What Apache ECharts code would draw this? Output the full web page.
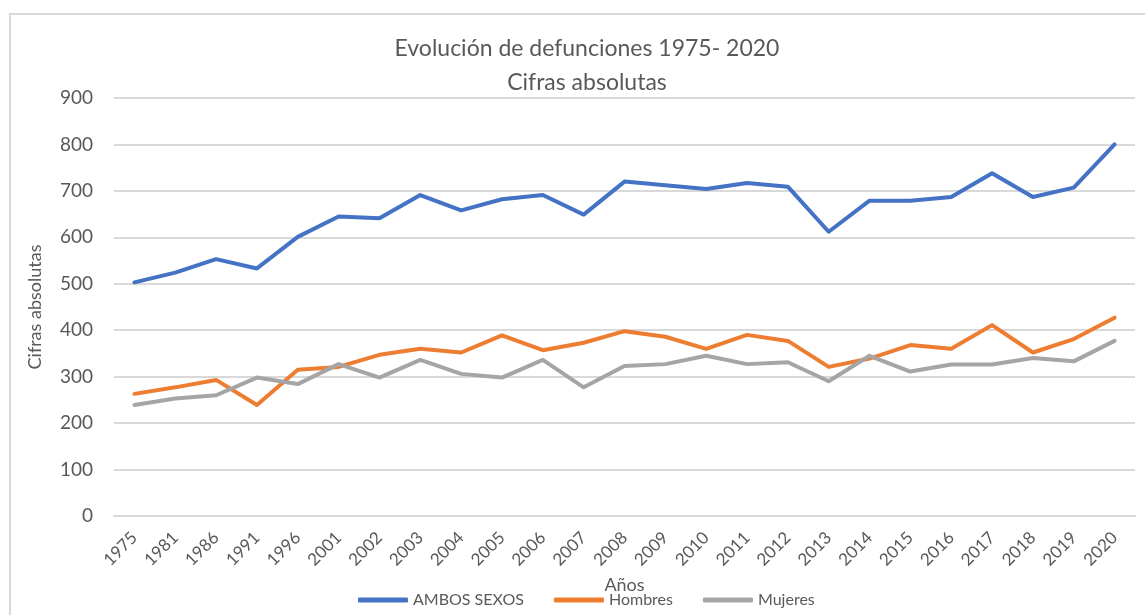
<!DOCTYPE html>
<html>
<head>
<meta charset="utf-8">
<script src="https://cdn.jsdelivr.net/npm/echarts@6/dist/echarts.min.js"></script>
<style>
html,body{margin:0;padding:0;background:#fff;}
#frame{position:absolute;left:9px;top:13px;width:1200px;height:700px;border-left:2px solid #D9D9D9;border-top:2px solid #D9D9D9;}
#chart{position:absolute;left:0;top:0;width:1145px;height:615px;}
</style>
</head>
<body>
<div id="frame"></div>
<div id="chart"></div>
<script>
const categories = ['1975','1981','1986','1991','1996','2001','2002','2003','2004','2005','2006','2007','2008','2009','2010','2011','2012','2013','2014','2015','2016','2017','2018','2019','2020'];
const ambosSexos = [503,524,553,533,601,645,641,691,658,682,691,649,720,712,704,717,709,612,679,679,687,738,687,707,800];
const hombres = [263,277,293,239,315,321,347,360,352,389,357,373,398,386,360,390,377,321,339,368,360,411,352,381,427];
const mujeres = [239,253,260,298,284,327,298,336,306,298,336,277,323,327,345,327,331,290,345,311,326,326,340,333,377];
const yTicks = [0,100,200,300,400,500,600,700,800,900];

const FONT = 'Lato, "Open Sans", sans-serif';
const TXT = '#595959';

const chart = echarts.init(document.getElementById('chart'), null, {renderer:'canvas'});
function mk(name, data, color){
  return {name:name, type:'line', data:data, showSymbol:false, symbol:'none',
    lineStyle:{color:color, width:4, cap:'round', join:'round'}, itemStyle:{color:color}};
}
chart.setOption({
  animation:false,
  backgroundColor:'transparent',
  title:{
    text:'Evolución de defunciones 1975- 2020\nCifras absolutas',
    left:582, top:27, textAlign:'center',
    textStyle:{fontFamily:FONT, fontSize:23, fontWeight:'normal', color:TXT, lineHeight:34}
  },
  legend:{
    bottom:2, left:353,
    data:['AMBOS SEXOS','Hombres','Mujeres'],
    icon:'roundRect', itemWidth:50, itemHeight:5, itemGap:30,
    textStyle:{fontFamily:FONT, fontSize:16, color:TXT}
  },
  grid:{left:114, right:10, top:98, bottom:99, containLabel:false},
  xAxis:{
    type:'category', data:categories, boundaryGap:true,
    name:'Años', nameLocation:'middle', nameGap:52,
    nameTextStyle:{fontFamily:FONT, fontSize:18, color:TXT},
    axisLine:{show:true, lineStyle:{color:'#D9D9D9', width:2}},
    axisTick:{show:false},
    axisLabel:{rotate:45, fontFamily:FONT, fontSize:17, color:TXT, margin:19, interval:0}
  },
  yAxis:{
    type:'value', min:yTicks[0], max:yTicks[yTicks.length-1], interval:100,
    name:'Cifras absolutas', nameLocation:'middle', nameGap:70, nameRotate:90,
    nameTextStyle:{fontFamily:FONT, fontSize:18, color:TXT},
    axisLine:{show:false}, axisTick:{show:false},
    axisLabel:{fontFamily:FONT, fontSize:19, color:TXT, margin:21},
    splitLine:{lineStyle:{color:'#D9D9D9', width:2}}
  },
  series:[
    mk('AMBOS SEXOS', ambosSexos, '#4472C4'),
    mk('Hombres', hombres, '#ED7D31'),
    mk('Mujeres', mujeres, '#A5A5A5')
  ]
});
</script>
</body>
</html>
